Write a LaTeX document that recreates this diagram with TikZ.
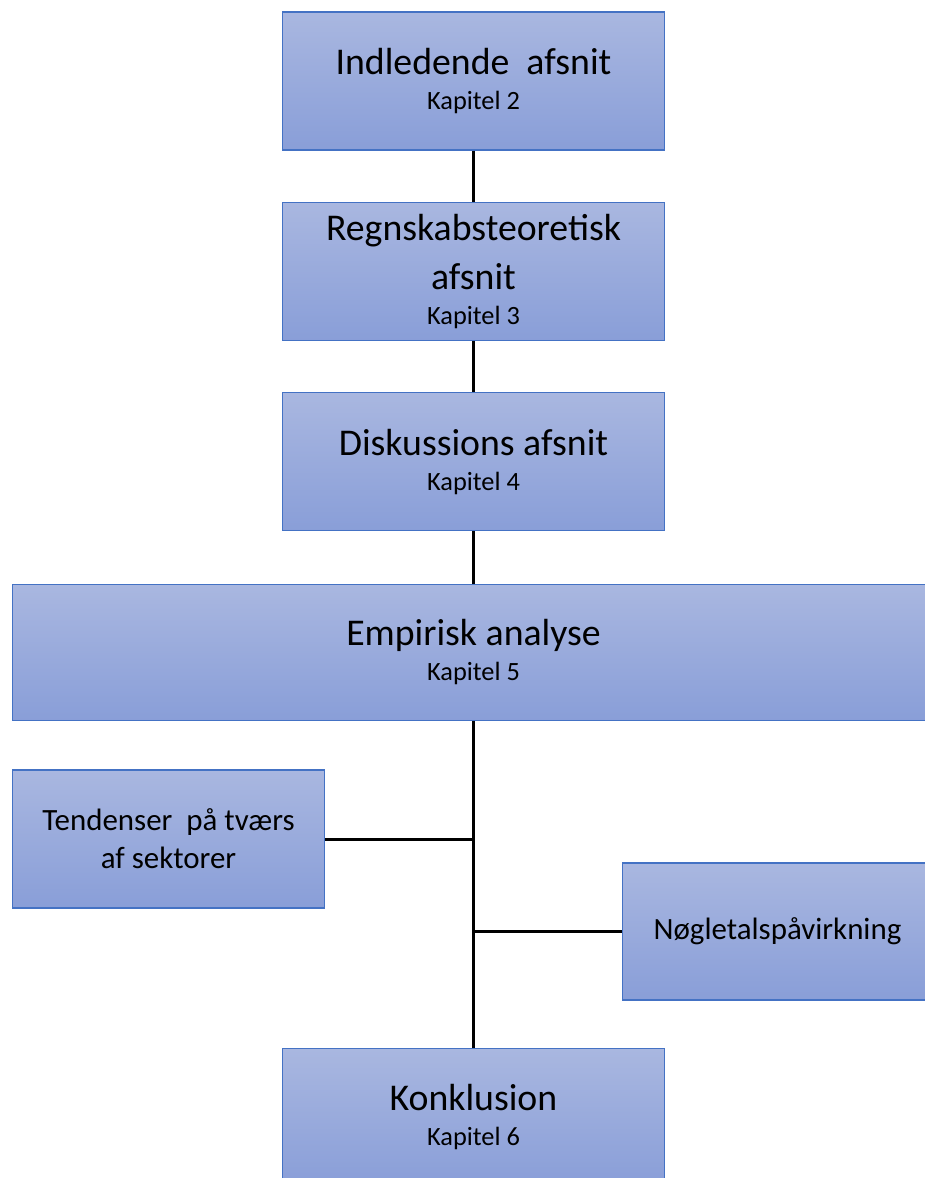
\documentclass[tikz,border=0pt]{standalone}
\usepackage{fontspec}
\setmainfont{Carlito}
\usetikzlibrary{positioning}

\definecolor{boxtop}{RGB}{169,183,224}
\definecolor{boxbottom}{RGB}{137,158,216}
\definecolor{boxline}{RGB}{68,114,196}
\newcommand{\kap}[1]{{\fontsize{15}{18}\selectfont #1}}

\begin{document}
\begin{tikzpicture}[x=0.02cm, y=-0.02cm, node distance=3.81cm,
    shaded/.style={rectangle, draw=boxline, line width=0.6pt, top color=boxtop, bottom color=boxbottom,
        align=center, minimum height=2.76cm},
    box/.style={shaded, minimum width=7.66cm, execute at begin node={\rule{0pt}{26pt}},
        font=\fontsize{21.5}{28}\selectfont},
    side/.style={shaded, minimum width=6.26cm, font=\fontsize{17.6}{21.5}\selectfont},
    link/.style={-, line width=1.7pt},]
    \useasboundingbox (0,0) rectangle (925,1178);

    \node [box](1) at (473.5,81) {Indledende\ \ afsnit\\[-8pt]\kap{Kapitel 2}};
    \node [box](2) [below of = 1]{Regnskabsteoretisk\\afsnit\\[-8pt]\kap{Kapitel 3}};
    \node [box](3) [below of = 2]{Diskussions afsnit\\[-8pt]\kap{Kapitel 4}};
    \node [box, minimum width=18.46cm, minimum height=2.72cm](4) [below of = 3]{Empirisk analyse\\[-8pt]\kap{Kapitel 5}};

    \node [side](5) at (168.5,839) {Tendenser\ \ på tværs\\af sektorer};
    \node [side, minimum width=6.22cm, minimum height=2.74cm](6) at (777.5,931.5) {Nøgletalspåvirkning};
    \node [box](7) [below of = 4, node distance=9.3cm]{Konklusion\\[-8pt]\kap{Kapitel 6}};

    \path[link]
        (1) edge (2)
        (2) edge (3)
        (3) edge (4)
        (4) edge (7)
    ;
    \draw[link] (5) -- (5 -| 4);
    \draw[link] (6) -- (6 -| 4);

\end{tikzpicture}
\end{document}
